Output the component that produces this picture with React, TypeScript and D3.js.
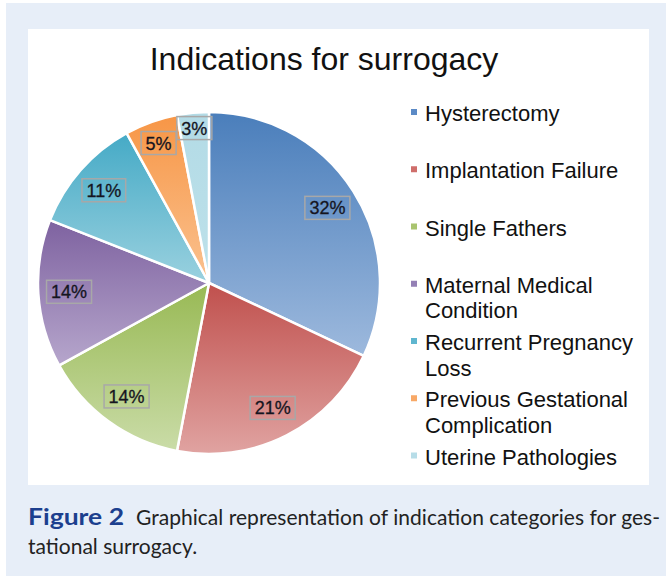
import React from "react";
import * as d3 from "d3";

const categories = [
  "Hysterectomy",
  "Implantation Failure",
  "Single Fathers",
  "Maternal Medical Condition",
  "Recurrent Pregnancy Loss",
  "Previous Gestational Complication",
  "Uterine Pathologies",
];
// legend wraps as in the original
const legendLines = [
  ["Hysterectomy"],
  ["Implantation Failure"],
  ["Single Fathers"],
  ["Maternal Medical", "Condition"],
  ["Recurrent Pregnancy", "Loss"],
  ["Previous Gestational", "Complication"],
  ["Uterine Pathologies"],
];
const values = [32, 21, 14, 14, 11, 5, 3];
const topColors = ["#4a7ebb", "#c0504d", "#98b954", "#7e62a0", "#45aac6", "#f79646", "#b3dbe6"];
const bottomColors = ["#9db9dd", "#e0a3a1", "#cadca8", "#b6a6cc", "#9ad1df", "#fac290", "#bde1ea"];
const legendColors = ["#5b8ac6", "#cf6e6b", "#a9c46f", "#9480b5", "#5fb6cf", "#f8a866", "#b7dde8"];

const W = 666;
const H = 576;

function measure(text: string, font: string) {
  const ctx = document.createElement("canvas").getContext("2d");
  if (!ctx) return text.length * 10;
  ctx.font = font;
  return ctx.measureText(text).width;
}

export default function App() {
  const cx = 209;
  const cy = 283;
  const r = 171;

  const pie = d3.pie<number>().sort(null).value((d) => d);
  const arcs = pie(values);
  const arc = d3.arc<d3.PieArcDatum<number>>().innerRadius(0).outerRadius(r);

  const labelFont = "18px 'Liberation Sans', Arial, sans-serif";

  // legend scale: one band per item
  const legendY = d3.scaleLinear().domain([0, categories.length - 1]).range([121, 464.5]);

  return (
    <svg width={W} height={H} style={{ position: "absolute", left: 0, top: 0, display: "block" }}>
      <defs>
        {values.map((_, i) => (
          <linearGradient key={i} id={"g" + i} x1="0" y1="0" x2="0" y2="1">
            <stop offset="0%" stopColor={topColors[i]} />
            <stop offset="100%" stopColor={bottomColors[i]} />
          </linearGradient>
        ))}
      </defs>
      <rect x={6} y={3} width={W - 6} height={H - 3} fill="#e7eef8" />
      <rect x={28} y={29} width={621} height={456} fill="#ffffff" />

      <text
        x={324}
        y={70}
        textAnchor="middle"
        fontFamily="'Liberation Sans', Arial, sans-serif"
        fontSize={32}
        fill="#111"
      >
        Indications for surrogacy
      </text>

      <g transform={`translate(${cx},${cy})`}>
        {arcs.map((a, i) => (
          <path key={i} d={arc(a) || ""} fill={`url(#g${i})`} stroke="#fff" strokeWidth={2.5} strokeLinejoin="round" />
        ))}
        {arcs.map((a, i) => {
          const f = values[i] < 8 ? 0.97 - 0.02 * values[i] : 0.82;
          const la = d3.arc<d3.PieArcDatum<number>>().innerRadius(r * f).outerRadius(r * f);
          const [lx, ly] = la.centroid(a);
          const label = values[i] + "%";
          const tw = measure(label, labelFont);
          const bw = tw + 9;
          const bh = 23;
          return (
            <g key={"l" + i} transform={`translate(${lx},${ly})`}>
              <rect x={-bw / 2} y={-bh / 2} width={bw} height={bh} fill="none" stroke="#a8a8a8" strokeWidth={1.5} />
              <text
                x={0}
                y={6.5}
                textAnchor="middle"
                fontFamily="'Liberation Sans', Arial, sans-serif"
                fontSize={18}
                fill="#15151f"
                stroke="#15151f"
                strokeWidth={0.3}
              >
                {label}
              </text>
            </g>
          );
        })}
      </g>

      <g>
        {legendLines.map((lines, i) => {
          const y = legendY(i);
          return (
            <g key={i}>
              <rect x={411} y={y - 12} width={6} height={6} fill={legendColors[i]} />
              <text fontFamily="'Liberation Sans', Arial, sans-serif" fontSize={22} fill="#111">
                {lines.map((t, j) => (
                  <tspan key={j} x={425} y={y + j * 25.5}>
                    {t}
                  </tspan>
                ))}
              </text>
            </g>
          );
        })}
      </g>

      <text fontFamily="Lato, 'Open Sans', sans-serif" fontSize={21} fill="#222">
        <tspan
          x={28}
          y={525}
          fontWeight="bold"
          fontSize={22}
          fill="#1c3f8e"
          textLength={96}
          lengthAdjust="spacingAndGlyphs"
        >
          Figure 2
        </tspan>
        <tspan x={136} y={525} textLength={524} lengthAdjust="spacing">
          Graphical representation of indication categories for ges-
        </tspan>
        <tspan x={28} y={554}>
          tational surrogacy.
        </tspan>
      </text>
    </svg>
  );
}
